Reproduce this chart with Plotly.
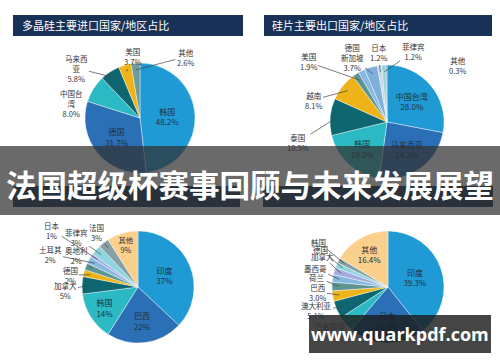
import math
import plotly.graph_objects as go

# ---------------- data ----------------
p1_title = "多晶硅主要进口国家/地区占比"
p1_labels = ["韩国", "德国", "中国台湾", "马来西亚", "美国", "其他"]
p1_values = [48.2, 31.7, 8.0, 5.8, 3.7, 2.6]
p1_text = ["韩国<br>48.2%", "德国<br>31.7%", "中国台<br>湾<br>8.0%", "马来西<br>亚<br>5.8%", "美国<br>3.7%", "其他<br>2.6%"]

p2_title = "硅片主要出口国家/地区占比"
p2_labels = ["中国台湾", "马来西亚", "韩国", "泰国", "越南", "美国", "德国", "新加坡", "日本", "菲律宾", "其他"]
p2_values = [28.0, 24.2, 19.0, 10.5, 8.1, 1.9, 1.9, 3.7, 1.2, 1.2, 0.3]
p2_text = ["中国台湾<br>28.0%", "马来西亚<br>24.2%", "韩国<br>19.0%", "泰国<br>10.5%", "越南<br>8.1%",
           "美国<br>1.9%", "", "德国<br>新加坡<br>3.7%", "日本<br>1.2%", "菲律宾<br>1.2%", "其他<br>0.3%"]

p3_labels = ["印度", "巴西", "韩国", "加拿大", "德国", "奥地利", "土耳其", "日本", "菲律宾", "法国", "其他"]
p3_values = [37, 22, 14, 5, 2, 2, 2, 1, 3, 3, 9]
p3_text = ["印度<br>37%", "巴西<br>22%", "韩国<br>14%", "加拿大<br>5%", "德国<br>2%", "奥地利<br>2%",
           "土耳其<br>2%", "日本<br>1%", "菲律宾<br>3%", "法国<br>3%", "其他<br>9%"]

p4_labels = ["印度", "日本", "巴基斯坦", "澳大利亚", "巴西", "荷兰", "墨西哥", "加拿大", "德国", "韩国", "其他"]
p4_values = [39.3, 22.0, 4.5, 5.1, 3.0, 2.5, 2.2, 2.0, 1.5, 1.5, 16.4]
p4_text = ["印度<br>39.3%", "日本<br>22.0%", "巴基斯坦", "澳大利亚<br>5.1%", "巴西<br>3.0%", "荷兰",
           "墨西哥", "加拿大", "德国", "韩国", "其他<br>16.4%"]

banner_text = "法国超级杯赛事回顾与未来发展展望"
watermark_text = "www.quarkpdf.com"

# ---------------- styles / layout ----------------
W, H = 500, 362
C_LB, C_MB, C_TQ, C_DT, C_GD = "#1f9ad4", "#2b6fb6", "#2bbac4", "#0e6670", "#eeb318"
C_GT, C_SB, C_LV, C_LC, C_GR, C_PE = "#5d9592", "#86b8e2", "#a3acdc", "#8fd5df", "#86a0a6", "#fbcf8c"

p1_colors = [C_LB, C_MB, C_TQ, C_DT, C_GD, "#6e9c9c"]
p2_colors = [C_LB, C_MB, C_TQ, C_DT, C_GD, C_GT, C_SB, "#7fb0dc", "#c7d8ee", C_LC, C_GR]
p3_colors = [C_LB, C_MB, C_TQ, C_DT, C_GD, C_GT, C_SB, C_LV, C_LC, C_GR, C_PE]
p4_colors = [C_LB, C_MB, C_TQ, C_DT, C_GD, C_GT, C_SB, C_LV, C_LC, C_GR, C_PE]

# pie geometry (center x, center y, radius) in px
geo = [(140, 118, 55), (387, 122, 57), (138, 287, 56), (388, 287, 56)]

inside = [
    {0, 1},
    {0, 1, 2},
    {0, 1, 2, 10},
    {0, 1, 10},
]
# outside label positions: slice index -> (label x, label y, leader?)
outside = [
    {2: (71, 103, False), 3: (76, 68, True), 4: (132, 57, True), 5: (185, 57, True)},
    {3: (298, 142, True), 4: (313, 100, True), 5: (308, 62, True), 7: (352, 57, True),
     8: (378, 53, True), 9: (413, 52, True), 10: (457, 65, False)},
    {3: (65, 290, True), 4: (70, 275, True), 5: (76, 255, True), 6: (50, 254, True),
     7: (52, 230, True), 8: (76, 237, True), 9: (96, 232, True)},
    {2: (330, 326, True), 3: (316, 310, True), 4: (317, 292, True), 5: (317, 277, True),
     6: (315, 268, True), 7: (322, 256, True), 8: (320, 249, True), 9: (318, 242, True)},
]

TXT = "#22303c"
FONT = "Noto Sans CJK SC"

pies = [
    (p1_labels, p1_values, p1_text, p1_colors),
    (p2_labels, p2_values, p2_text, p2_colors),
    (p3_labels, p3_values, p3_text, p3_colors),
    (p4_labels, p4_values, p4_text, p4_colors),
]

fig = go.Figure()
annotations = []

for k, (labels, values, texts, colors) in enumerate(pies):
    cx, cy, r = geo[k]
    tp = ["inside" if i in inside[k] else "none" for i in range(len(values))]
    fig.add_trace(go.Pie(
        labels=labels, values=values, text=texts, textinfo="text",
        textposition=tp, insidetextorientation="horizontal",
        textfont=dict(family=FONT, size=8, color=TXT),
        sort=False, direction="clockwise", rotation=0,
        marker=dict(colors=colors, line=dict(color="white", width=0.4)),
        domain=dict(x=[(cx - r) / W, (cx + r) / W], y=[1 - (cy + r) / H, 1 - (cy - r) / H]),
        showlegend=False, hoverinfo="label+percent",
    ))
    total = float(sum(values))
    cum = 0.0
    for i, v in enumerate(values):
        mid = (cum + v / 2) / total * 2 * math.pi
        cum += v
        if i not in outside[k]:
            continue
        lx, ly, leader = outside[k][i]
        a = dict(xref="paper", yref="paper", text=texts[i], align="center",
                 xanchor="center", yanchor="middle",
                 font=dict(family=FONT, size=7.5, color="#333333"))
        if leader:
            tx = cx + r * 0.88 * math.sin(mid)
            ty = cy - r * 0.88 * math.cos(mid)
            a.update(x=tx / W, y=1 - ty / H, ax=lx - tx, ay=ly - ty, showarrow=True,
                     arrowhead=0, arrowwidth=0.7, arrowcolor="#444444")
        else:
            a.update(x=lx / W, y=1 - ly / H, showarrow=False)
        annotations.append(a)


def rect(x0, y0, x1, y1, color):
    return dict(type="rect", xref="paper", yref="paper", x0=x0 / W, x1=x1 / W,
                y0=1 - y1 / H, y1=1 - y0 / H, fillcolor=color, line=dict(width=0), layer="above")


NAVY = "#173256"
shapes = [
    rect(13, 15, 243, 36, NAVY),
    rect(264, 15, 492, 36, NAVY),
    rect(13, 186, 240, 207, NAVY),
    rect(263, 186, 493, 207, NAVY),
    rect(0, 146, 500, 215, "rgba(48,48,48,0.72)"),
    rect(309, 315, 491, 353, "rgba(28,28,28,0.82)"),
]

annotations += [
    dict(xref="paper", yref="paper", x=20 / W, y=1 - 25.5 / H, xanchor="left", yanchor="middle",
         showarrow=False, text=p1_title, font=dict(family=FONT, size=11, color="white")),
    dict(xref="paper", yref="paper", x=270 / W, y=1 - 25.5 / H, xanchor="left", yanchor="middle",
         showarrow=False, text=p2_title, font=dict(family=FONT, size=11, color="white")),
    dict(xref="paper", yref="paper", x=0.5, y=1 - 184 / H, xanchor="center", yanchor="middle",
         showarrow=False, text="<b>" + banner_text + "</b>",
         font=dict(family=FONT, size=30.5, color="white")),
    dict(xref="paper", yref="paper", x=400 / W, y=1 - 334 / H, xanchor="center", yanchor="middle",
         showarrow=False, text="<b>" + watermark_text + "</b>",
         font=dict(family="Open Sans", size=18, color="white")),
]

fig.update_layout(
    width=W, height=H, margin=dict(l=0, r=0, t=0, b=0),
    paper_bgcolor="white", plot_bgcolor="white",
    shapes=shapes, annotations=annotations,
)
fig.write_html("out.html", config={"displayModeBar": False},
               post_script="document.body.style.margin='0px';")
